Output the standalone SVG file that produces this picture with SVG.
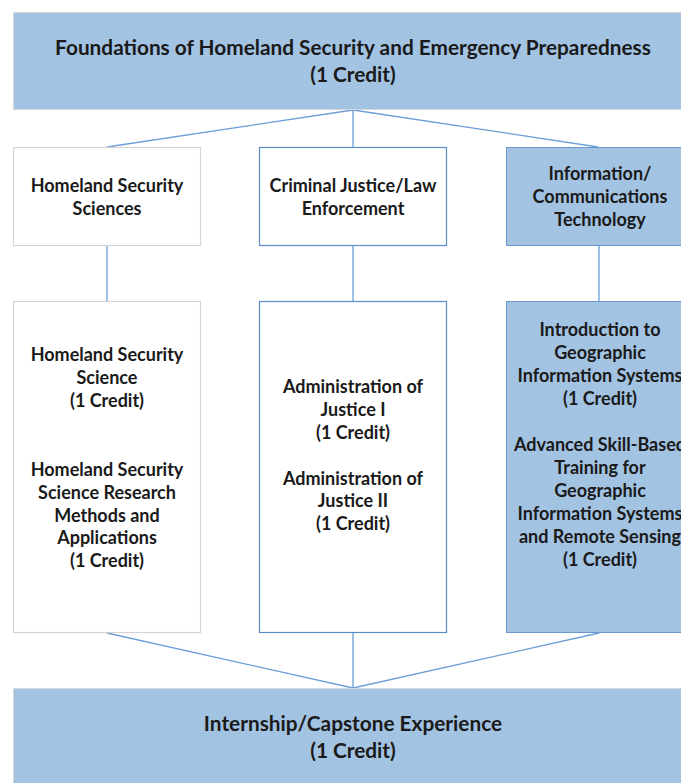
<svg xmlns="http://www.w3.org/2000/svg" width="681" height="783" viewBox="0 0 681 783">
<style>
text{font-family:Lato,"Liberation Sans",sans-serif;font-weight:bold;font-size:18px;fill:#1a1a1a;text-anchor:middle}
.big{font-size:20.8px}
.blue{fill:#a3c3e2;stroke:#6a98cc;stroke-width:1}
.bluenb{fill:#a3c3e2;stroke:#d8d8d8;stroke-width:1}
.white{fill:#ffffff;stroke:#d4d4d4;stroke-width:1.2}
.whiteb{fill:#ffffff;stroke:#5b8ec6;stroke-width:1.2}
.conn{stroke:#6b9fd6;stroke-width:1.3;fill:none}
</style>
<rect width="681" height="783" fill="#ffffff"/>
<g id="connectors">
<path class="conn" d="M353,110 L107,147 M353,110 L353,147 M353,110 L598,147"/>
<path class="conn" d="M107,246 L107,301 M353,246 L353,301 M599,246 L599,301"/>
<path class="conn" d="M107,633 L353,688 M353,633 L353,688 M599,633 L353,688"/>
</g>
<g id="foundations">
<rect class="bluenb" x="13.5" y="12.5" width="680" height="97"/>
<text class="big" x="353" y="55">Foundations of Homeland Security and Emergency Preparedness</text>
<text class="big" x="353" y="82">(1 Credit)</text>
</g>
<g id="hss">
<rect class="white" x="13.5" y="147.5" width="187" height="98"/>
<text x="107" y="192">Homeland Security</text>
<text x="107" y="215">Sciences</text>
</g>
<g id="cj">
<rect class="whiteb" x="259.5" y="147.5" width="187" height="98"/>
<text x="353" y="192">Criminal Justice/Law</text>
<text x="353" y="215">Enforcement</text>
</g>
<g id="ict">
<rect class="blue" x="506.5" y="147.5" width="190" height="98"/>
<text x="600" y="180">Information/</text>
<text x="600" y="203">Communications</text>
<text x="600" y="226">Technology</text>
</g>
<g id="hss-courses">
<rect class="white" x="13.5" y="301.5" width="187" height="331"/>
<text x="107" y="361">Homeland Security</text>
<text x="107" y="384">Science</text>
<text x="107" y="407">(1 Credit)</text>
<text x="107" y="476">Homeland Security</text>
<text x="107" y="499">Science Research</text>
<text x="107" y="522">Methods and</text>
<text x="107" y="544">Applications</text>
<text x="107" y="567">(1 Credit)</text>
</g>
<g id="cj-courses">
<rect class="whiteb" x="259.5" y="301.5" width="187" height="331"/>
<text x="353" y="393">Administration of</text>
<text x="353" y="416">Justice I</text>
<text x="353" y="439">(1 Credit)</text>
<text x="353" y="485">Administration of</text>
<text x="353" y="507">Justice II</text>
<text x="353" y="530">(1 Credit)</text>
</g>
<g id="ict-courses">
<rect class="blue" x="506.5" y="301.5" width="190" height="331"/>
<text x="600" y="336">Introduction to</text>
<text x="600" y="359">Geographic</text>
<text x="600" y="382">Information Systems</text>
<text x="600" y="405">(1 Credit)</text>
<text x="600" y="451">Advanced Skill-Based</text>
<text x="600" y="474">Training for</text>
<text x="600" y="497">Geographic</text>
<text x="600" y="520">Information Systems</text>
<text x="600" y="543">and Remote Sensing</text>
<text x="600" y="566">(1 Credit)</text>
</g>
<g id="capstone">
<rect class="bluenb" x="13.5" y="688.5" width="680" height="110"/>
<text class="big" x="353" y="731">Internship/Capstone Experience</text>
<text class="big" x="353" y="758">(1 Credit)</text>
</g>
</svg>
